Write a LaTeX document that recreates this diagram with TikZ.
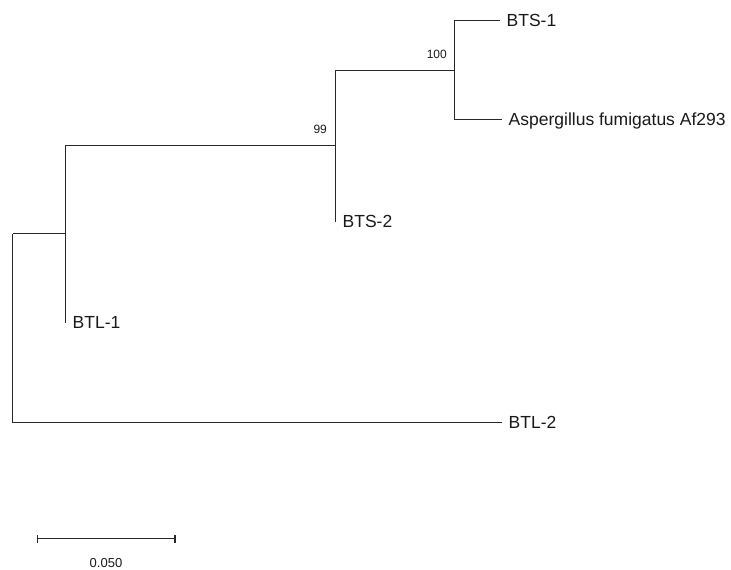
\documentclass[tikz,border=0pt]{standalone}
\usepackage{fontspec}
\setmainfont{Liberation Sans}
\usetikzlibrary{calc,arrows.meta}
\definecolor{BrLine}{RGB}{40,40,40}
\definecolor{TxtCol}{RGB}{25,25,25}
\tikzset{
  br/.style={draw=BrLine,line width=1.2pt},
  leaf/.style={anchor=west,inner xsep=7pt,inner ysep=0pt,text height=12.6pt,text depth=0pt,text=TxtCol,font=\fontsize{17.5}{20}\selectfont},
  boot/.style={anchor=base east,inner sep=0pt,text=TxtCol,font=\fontsize{12}{14}\selectfont},
  sbar/.style={draw=BrLine,line width=1.2pt,{Bar[width=8pt,line width=1.2pt]}-{Bar[width=8pt,line width=1.2pt]}},
  slbl/.style={inner sep=0pt,text=TxtCol,font=\fontsize{13}{15}\selectfont},
}

\begin{document}
\begin{tikzpicture}[x=1pt,y=-1pt]
\useasboundingbox (0,0) rectangle (731,570);

% internal nodes
\coordinate (R)  at (12.5,233.5);
\coordinate (N1) at (65.5,233.5);
\coordinate (N2) at (335.5,145.5);
\coordinate (N3) at (454.5,70.5);

% leaves
\node[leaf] (BTS1) at (499.5,20.5) {BTS-1};
\node[leaf] (AF)   at (501.5,119.5){Aspergillus fumigatus Af293};
\node[leaf] (BTS2) at (335.5,221.5){BTS-2};
\node[leaf] (BTL1) at (65.5,322.5) {BTL-1};
\node[leaf] (BTL2) at (501.5,422.5){BTL-2};

% branches
\draw[br](BTS1.west)-|(N3);
\draw[br](AF.west)-|(N3);
\draw[br](N3)-|(N2);
\draw[br](BTS2.west)-|(N2);
\draw[br](N2)-|(N1);
\draw[br](BTL1.west)-|(N1);
\draw[br](N1)-|(R);
\draw[br](BTL2.west)-|(R);

% bootstrap values
\node[boot] (B3) at ($(N3)+(-7.5,-11.7)$) {100};
\node[boot] (B2) at ($(N2)+(-8.4,-12)$)   {99};

% scale bar
\coordinate (SB1) at (36.5,538.5);
\coordinate (SB2) at (175.5,538.5);
\draw[sbar](SB1)--(SB2);
\node[slbl] (SL) at (106,563) {0.050};

\end{tikzpicture}
\end{document}
